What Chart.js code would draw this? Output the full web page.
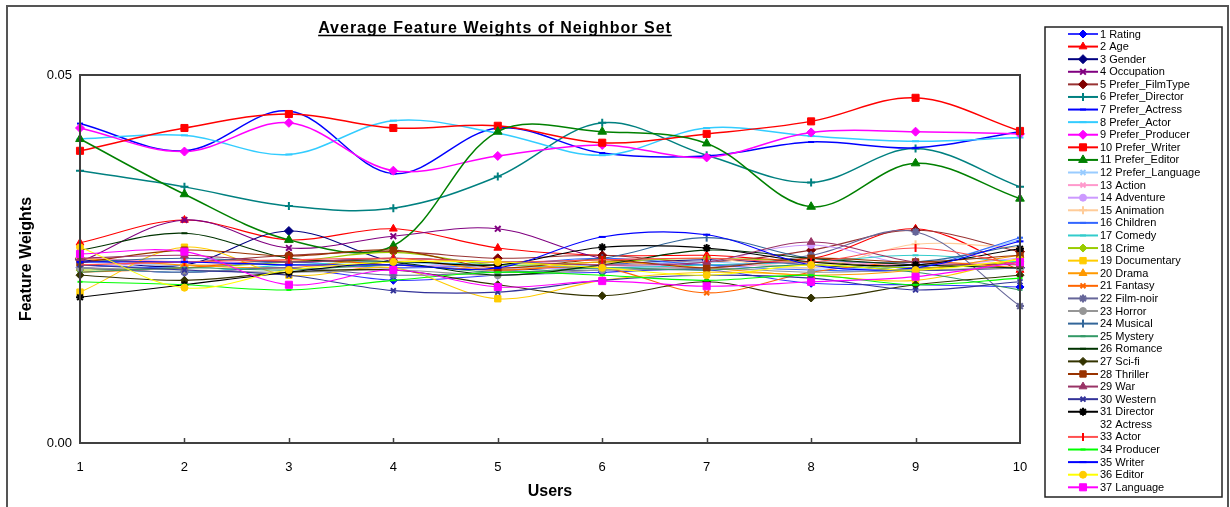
<!DOCTYPE html>
<html>
<head>
<meta charset="utf-8">
<title>Average Feature Weights of Neighbor Set</title>
<script src="https://cdn.jsdelivr.net/npm/chart.js@4"></script>
<style>
  html, body { margin: 0; padding: 0; background: #fff; }
  #wrap { width: 1230px; height: 507px; }
</style>
</head>
<body>
<div id="wrap"><canvas id="featureChart" width="1230" height="507"></canvas></div>
<script>
// users on the x axis
const users = ["1", "2", "3", "4", "5", "6", "7", "8", "9", "10"]
const yTicks = [0, 0.05]

const seriesNames = [
  "1 Rating", "2 Age", "3 Gender", "4 Occupation", "5 Prefer_FilmType", "6 Prefer_Director",
  "7 Prefer_Actress", "8 Prefer_Actor", "9 Prefer_Producer", "10 Prefer_Writer", "11 Prefer_Editor",
  "12 Prefer_Language", "13 Action", "14 Adventure", "15 Animation", "16 Children", "17 Comedy",
  "18 Crime", "19 Documentary", "20 Drama", "21 Fantasy", "22 Film-noir", "23 Horror", "24 Musical",
  "25 Mystery", "26 Romance", "27 Sci-fi", "28 Thriller", "29 War", "30 Western", "31 Director",
  "32 Actress", "33 Actor", "34 Producer", "35 Writer", "36 Editor", "37 Language"
]

// feature weights per user
const rating = [0.0238, 0.0232, 0.0238, 0.0221, 0.0228, 0.0232, 0.0235, 0.0217, 0.0215, 0.0212]
const age = [0.0272, 0.0303, 0.0276, 0.0291, 0.0265, 0.0255, 0.0255, 0.0251, 0.0291, 0.0235]
const gender = [0.0249, 0.0242, 0.0288, 0.0246, 0.0235, 0.0242, 0.0249, 0.0242, 0.0235, 0.0238]
const occupation = [0.0246, 0.0303, 0.0265, 0.0281, 0.0291, 0.0251, 0.0242, 0.0246, 0.0238, 0.0246]
const preferFilmType = [0.0251, 0.0246, 0.0255, 0.0260, 0.0251, 0.0255, 0.0246, 0.0262, 0.0289, 0.0260]
const preferDirector = [0.0370, 0.0348, 0.0322, 0.0319, 0.0362, 0.0435, 0.0391, 0.0354, 0.0400, 0.0348]
const preferActress = [0.0434, 0.0397, 0.0451, 0.0366, 0.0428, 0.0394, 0.0390, 0.0409, 0.0401, 0.0423]
const preferActor = [0.0413, 0.0418, 0.0392, 0.0438, 0.0421, 0.0391, 0.0428, 0.0417, 0.0410, 0.0415]
const preferProducer = [0.0428, 0.0396, 0.0435, 0.0370, 0.0390, 0.0405, 0.0388, 0.0422, 0.0423, 0.0420]
const preferWriter = [0.0397, 0.0428, 0.0447, 0.0428, 0.0431, 0.0408, 0.0420, 0.0437, 0.0469, 0.0424]
const preferEditor = [0.0413, 0.0338, 0.0276, 0.0268, 0.0423, 0.0423, 0.0407, 0.0321, 0.0380, 0.0332]
const preferLanguage = [0.0246, 0.0242, 0.0246, 0.0246, 0.0238, 0.0242, 0.0246, 0.0238, 0.0242, 0.0276]
const action = [0.0251, 0.0246, 0.0242, 0.0238, 0.0246, 0.0242, 0.0238, 0.0246, 0.0242, 0.0246]
const adventure = [0.0238, 0.0246, 0.0242, 0.0242, 0.0238, 0.0238, 0.0246, 0.0269, 0.0242, 0.0251]
const animation = [0.0251, 0.0242, 0.0246, 0.0249, 0.0238, 0.0246, 0.0251, 0.0238, 0.0270, 0.0265]
const children = [0.0242, 0.0238, 0.0246, 0.0238, 0.0242, 0.0251, 0.0242, 0.0235, 0.0238, 0.0279]
const comedy = [0.0238, 0.0232, 0.0242, 0.0246, 0.0242, 0.0238, 0.0242, 0.0246, 0.0255, 0.0246]
const crime = [0.0235, 0.0238, 0.0246, 0.0259, 0.0242, 0.0246, 0.0251, 0.0246, 0.0238, 0.0246]
const documentary = [0.0205, 0.0266, 0.0228, 0.0238, 0.0196, 0.0221, 0.0232, 0.0228, 0.0221, 0.0251]
const drama = [0.0251, 0.0242, 0.0238, 0.0251, 0.0235, 0.0246, 0.0238, 0.0228, 0.0235, 0.0255]
const fantasy = [0.0232, 0.0238, 0.0249, 0.0242, 0.0235, 0.0238, 0.0204, 0.0232, 0.0246, 0.0238]
const filmNoir = [0.0238, 0.0232, 0.0238, 0.0228, 0.0232, 0.0235, 0.0238, 0.0255, 0.0287, 0.0186]
const horror = [0.0238, 0.0235, 0.0232, 0.0235, 0.0228, 0.0235, 0.0238, 0.0232, 0.0235, 0.0238]
const musical = [0.0246, 0.0251, 0.0246, 0.0251, 0.0246, 0.0251, 0.0279, 0.0251, 0.0246, 0.0269]
const mystery = [0.0232, 0.0238, 0.0235, 0.0242, 0.0232, 0.0238, 0.0235, 0.0242, 0.0232, 0.0208]
const romance = [0.0262, 0.0285, 0.0251, 0.0246, 0.0228, 0.0242, 0.0262, 0.0251, 0.0242, 0.0238]
const sciFi = [0.0228, 0.0221, 0.0232, 0.0235, 0.0215, 0.0200, 0.0219, 0.0197, 0.0215, 0.0228]
const thriller = [0.0245, 0.0262, 0.0254, 0.0262, 0.0238, 0.0249, 0.0238, 0.0251, 0.0246, 0.0255]
const war = [0.0251, 0.0255, 0.0246, 0.0251, 0.0246, 0.0242, 0.0246, 0.0273, 0.0246, 0.0242]
const western = [0.0242, 0.0235, 0.0228, 0.0207, 0.0205, 0.0221, 0.0228, 0.0224, 0.0208, 0.0219]
const director = [0.0198, 0.0215, 0.0232, 0.0246, 0.0242, 0.0266, 0.0265, 0.0246, 0.0242, 0.0264]
const actress = [null, null, null, null, null, null, null, null, null, null] // no line in the original
const actor = [0.0242, 0.0246, 0.0249, 0.0251, 0.0246, 0.0249, 0.0251, 0.0246, 0.0265, 0.0242]
const producer = [0.0219, 0.0215, 0.0208, 0.0221, 0.0232, 0.0228, 0.0221, 0.0228, 0.0215, 0.0224]
const writer = [0.0246, 0.0246, 0.0242, 0.0242, 0.0238, 0.0280, 0.0283, 0.0242, 0.0238, 0.0274]
const editor = [0.0266, 0.0211, 0.0235, 0.0246, 0.0246, 0.0238, 0.0228, 0.0242, 0.0235, 0.0249]
const language = [0.0257, 0.0260, 0.0215, 0.0235, 0.0212, 0.0220, 0.0213, 0.0219, 0.0226, 0.0246]

const seriesValues = [
  rating, age, gender, occupation, preferFilmType, preferDirector, preferActress, preferActor,
  preferProducer, preferWriter, preferEditor, preferLanguage, action, adventure, animation, children,
  comedy, crime, documentary, drama, fantasy, filmNoir, horror, musical, mystery, romance, sciFi,
  thriller, war, western, director, actress, actor, producer, writer, editor, language
]

// [line colour, marker colour, marker style, marker radius, rotation]
const seriesStyles = [
  ["#3333ff", "#0000ff", "rectRot", 4, 0],
  ["#ff0000", "#ff0000", "triangle", 4.5, 0],
  ["#000080", "#000080", "rectRot", 4.5, 0],
  ["#800080", "#800080", "crossRot", 4, 0],
  ["#993333", "#800000", "rectRot", 4.5, 0],
  ["#008080", "#008080", "cross", 4, 0],
  ["#0000ff", "#0000ff", "line", 3, 0],
  ["#33ccff", "#33ccff", "line", 3.5, 0],
  ["#ff00ff", "#ff00ff", "rectRot", 4.5, 0],
  ["#ff0000", "#ff0000", "rect", 5, 0],
  ["#008000", "#008000", "triangle", 5, 0],
  ["#99ccff", "#99ccff", "crossRot", 3.5, 0],
  ["#ff99cc", "#ff99cc", "crossRot", 3.5, 0],
  ["#cc99ff", "#cc99ff", "circle", 3.5, 0],
  ["#ffcc99", "#ffcc99", "cross", 4, 0],
  ["#3366ff", "#3366ff", "line", 3, 0],
  ["#33cccc", "#33cccc", "line", 3, 0],
  ["#99cc00", "#99cc00", "rectRot", 4, 0],
  ["#ffcc00", "#ffcc00", "rect", 4.5, 0],
  ["#ff9900", "#ff9900", "triangle", 4.5, 0],
  ["#ff6600", "#ff6600", "crossRot", 3.5, 0],
  ["#666699", "#666699", "star", 4, 0],
  ["#969696", "#969696", "circle", 3.5, 0],
  ["#336699", "#336699", "line", 4, 90],
  ["#339966", "#339966", "line", 2.5, 0],
  ["#003300", "#003300", "line", 3, 0],
  ["#333300", "#333300", "rectRot", 4, 0],
  ["#993300", "#993300", "rect", 4.5, 0],
  ["#993366", "#993366", "triangle", 4.5, 0],
  ["#333399", "#333399", "crossRot", 3.5, 0],
  ["#000000", "#000000", "star", 4, 0],
  ["rgba(0,0,0,0)", "rgba(0,0,0,0)", false, 0, 0],
  ["#ff5050", "#ff0000", "line", 4, 90],
  ["#00ff00", "#00ff00", "line", 2.5, 0],
  ["#0000ff", "#0000ff", "line", 3.5, 0],
  ["#ffff00", "#ffcc00", "circle", 3.5, 0],
  ["#ff00ff", "#ff00ff", "rect", 5, 0]
]

const FONT = "'Liberation Sans', Arial, sans-serif"

const datasets = seriesNames.map((name, i) => {
  const [line, mark, style, radius, rot] = seriesStyles[i]
  const heavy = i >= 5 && i <= 10
  return {
    label: name,
    data: seriesValues[i],
    borderColor: line,
    backgroundColor: mark,
    pointBorderColor: mark,
    pointBackgroundColor: mark,
    pointStyle: style,
    pointRadius: radius,
    pointRotation: rot,
    pointBorderWidth: style === "line" || String(style).startsWith("cross") || style === "star" ? 2 : 1,
    borderWidth: heavy ? 1.5 : 1.1,
    tension: 0.35,
    fill: false,
    spanGaps: false,
    order: seriesNames.length - i
  }
})

// frame, title, inward tick marks and the Excel-like legend
const excelFrame = {
  id: "excelFrame",
  beforeDraw(chart) {
    const ctx = chart.ctx
    ctx.save()
    ctx.fillStyle = "#fff"
    ctx.fillRect(0, 0, chart.width, chart.height)
    ctx.strokeStyle = "#555"
    ctx.lineWidth = 2
    ctx.strokeRect(7, 6, 1221, 520)
    ctx.restore()
  },
  afterDraw(chart) {
    const ctx = chart.ctx
    const area = chart.chartArea
    const xScale = chart.scales.x
    ctx.save()

    // plot box
    ctx.strokeStyle = "#404040"
    ctx.lineWidth = 2
    ctx.strokeRect(area.left, area.top, area.right - area.left, area.bottom - area.top)
    ctx.lineWidth = 1.5
    for (let i = 1; i < users.length - 1; i++) {
      const x = Math.round(xScale.getPixelForValue(i)) + 0.5
      ctx.beginPath()
      ctx.moveTo(x, area.bottom)
      ctx.lineTo(x, area.bottom - 5)
      ctx.stroke()
    }

    // title, underlined
    const title = "Average Feature Weights of Neighbor Set"
    ctx.font = "bold 16px " + FONT
    ctx.letterSpacing = "1px"
    ctx.fillStyle = "#000"
    ctx.textAlign = "center"
    ctx.textBaseline = "alphabetic"
    const tx = 495
    const ty = 33
    ctx.fillText(title, tx, ty)
    const tw = ctx.measureText(title).width
    ctx.letterSpacing = "0px"
    ctx.strokeStyle = "#000"
    ctx.lineWidth = 1.5
    ctx.beginPath()
    ctx.moveTo(tx - tw / 2, ty + 2.5)
    ctx.lineTo(tx + tw / 2, ty + 2.5)
    ctx.stroke()

    // legend
    const lx = 1045
    const ly = 27
    ctx.strokeStyle = "#222"
    ctx.lineWidth = 1.5
    ctx.strokeRect(lx, ly, 1222 - lx, 497 - ly)
    const rowH = (487.3 - 34) / 36
    ctx.font = "11px " + FONT
    ctx.textAlign = "left"
    ctx.textBaseline = "middle"
    chart.data.datasets.forEach((ds, i) => {
      const y = 34 + i * rowH
      ctx.strokeStyle = ds.borderColor
      ctx.lineWidth = 2
      ctx.beginPath()
      ctx.moveTo(1068, y)
      ctx.lineTo(1098, y)
      ctx.stroke()
      if (ds.pointStyle && Chart.helpers && Chart.helpers.drawPoint) {
        ctx.fillStyle = ds.pointBackgroundColor
        ctx.strokeStyle = ds.pointBorderColor
        ctx.lineWidth = ds.pointBorderWidth
        Chart.helpers.drawPoint(ctx, {
          pointStyle: ds.pointStyle,
          rotation: ds.pointRotation,
          radius: ds.pointRadius,
          borderWidth: ds.pointBorderWidth
        }, 1083, y)
      }
      ctx.fillStyle = "#000"
      ctx.fillText(ds.label, 1100, y + 0.5)
    })
    ctx.restore()
  }
}

const ctx = document.getElementById("featureChart")
new Chart(ctx, {
  type: "line",
  data: { labels: users, datasets },
  options: {
    responsive: false,
    animation: false,
    devicePixelRatio: 1,
    layout: { padding: { left: 0, right: 210, top: 75, bottom: 0 } },
    plugins: {
      legend: { display: false },
      title: { display: false },
      tooltip: { enabled: false }
    },
    scales: {
      x: {
        offset: false,
        grid: { display: false, drawTicks: false },
        border: { display: false },
        ticks: { color: "#000", font: { family: FONT, size: 13 }, padding: 17, maxRotation: 0, autoSkip: false },
        title: { display: true, text: "Users", color: "#000", font: { family: FONT, size: 16, weight: "bold" }, padding: { top: 0, bottom: 6 } },
        afterFit: (s) => { s.height = 64 }
      },
      y: {
        min: yTicks[0],
        max: yTicks[yTicks.length - 1],
        grid: { display: false, drawTicks: false },
        border: { display: false },
        afterBuildTicks: (s) => { s.ticks = yTicks.map((v) => ({ value: v })) },
        ticks: { color: "#000", font: { family: FONT, size: 13 }, padding: 8, callback: (v) => Number(v).toFixed(2) },
        title: { display: true, text: "Feature Weights", color: "#000", font: { family: FONT, size: 16, weight: "bold" }, padding: { top: 17, bottom: 0 } },
        afterFit: (s) => { s.width = 80 }
      }
    }
  },
  plugins: [excelFrame]
})
</script>
</body>
</html>
